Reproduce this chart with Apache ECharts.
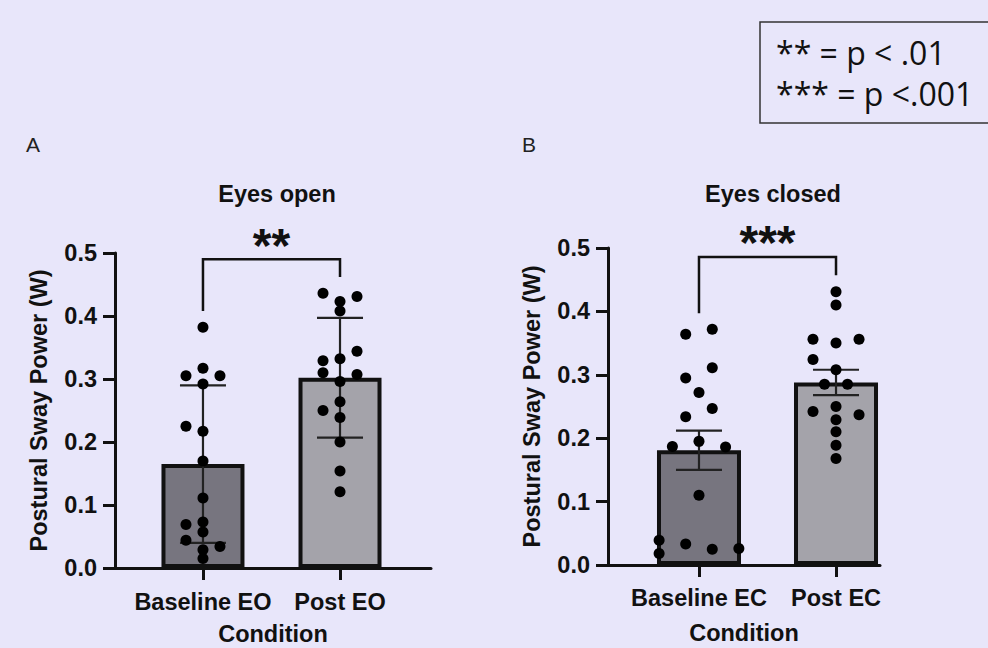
<!DOCTYPE html>
<html>
<head>
<meta charset="utf-8">
<script src="https://cdn.jsdelivr.net/npm/echarts@6/dist/echarts.min.js"></script>
<style>
html,body{margin:0;padding:0;background:#E8E6FA;}
#chart{width:988px;height:648px;}
</style>
</head>
<body>
<div id="chart"></div>
<script>
// ---------- data ----------
const categoriesA = ['Baseline EO', 'Post EO'];
const categoriesB = ['Baseline EC', 'Post EC'];
const yTicks = [0.0, 0.1, 0.2, 0.3, 0.4, 0.5];

const meansA = [0.165, 0.302];   // bar heights, eyes open
const errA   = [0.125, 0.095];   // SD
const meansB = [0.181, 0.288];   // bar heights, eyes closed
const errB   = [0.031, 0.020];   // SEM

const baselineEO = [0.382,0.317,0.305,0.305,0.292,0.225,0.217,0.170,0.111,0.069,0.073,0.057,0.044,0.034,0.029,0.015];
const baselineEOcol = [0,0,-1,1,0,-1,0,0,0,-1,0,0,-1,1,0,0];
const postEO = [0.436,0.431,0.423,0.408,0.344,0.329,0.332,0.310,0.307,0.296,0.264,0.250,0.239,0.200,0.154,0.121];
const postEOcol = [-1,1,0,0,1,-1,0,-1,1,0,0,-1,0,0,0,0];
const baselineEC = [0.364,0.372,0.311,0.295,0.272,0.247,0.234,0.187,0.195,0.186,0.110,0.039,0.018,0.033,0.025,0.026];
const baselineECcol = [-1,1,1,-1,0,1,-1,-2,0,2,0,-3,-3,-1,1,3];
const postEC = [0.431,0.410,0.356,0.350,0.356,0.324,0.308,0.285,0.285,0.242,0.250,0.237,0.229,0.210,0.189,0.168];
const postECcol = [0,0,-2,0,2,-2,0,-1,1,-2,0,2,0,0,0,0];

// significance brackets: [x0, x1, yTop, yLeftEnd, yRightEnd]
const bracketA = [0, 1, 0.490, 0.408, 0.462];
const bracketB = [0, 1, 0.486, 0.397, 0.457];
const starsA = '**';
const starsB = '***';

const panelTitles = ['Eyes open', 'Eyes closed'];
const panelLetters = ['A', 'B'];
const yAxisTitle = 'Postural Sway Power (W)';
const xAxisTitle = 'Condition';
const legendLines = ['** = p < .01', '*** = p <.001'];

// ---------- styles ----------
const BG = '#E8E6FA';
const INK = '#111111';
const BAR_DARK = '#77757F';
const BAR_LIGHT = '#A4A3AA';
const FONT = '"Liberation Sans", Arial, sans-serif';
const FS = 23.5;

function dots(vals, cols, center, spacing) {
  return vals.map((v, i) => [center + cols[i] * spacing, v]);
}

function xAxisCfg(grid, cats, min, max, margin, gap) {
  return {
    gridIndex: grid, type: 'value', min: min, max: max,
    axisLine: {show: true, onZero: false, lineStyle: {color: INK, width: 3}},
    axisTick: {show: true, customValues: [0, 1], length: 12, lineStyle: {color: INK, width: 3}},
    axisLabel: {show: true, customValues: [0, 1], formatter: v => cats[Math.round(v)] || '',
      fontSize: FS, fontWeight: 'bold', color: INK, fontFamily: FONT, margin: margin},
    splitLine: {show: false},
    name: xAxisTitle, nameLocation: 'middle', nameGap: gap,
    nameTextStyle: {fontSize: FS, fontWeight: 'bold', color: INK, fontFamily: FONT}
  };
}
function yAxisCfg(grid) {
  return {
    gridIndex: grid, type: 'value', min: 0, max: 0.5, interval: 0.1,
    axisLine: {show: true, onZero: false, lineStyle: {color: INK, width: 3}},
    axisTick: {show: true, length: 12, lineStyle: {color: INK, width: 3}},
    axisLabel: {formatter: v => v.toFixed(1), fontSize: FS, fontWeight: 'bold', color: INK, fontFamily: FONT, margin: 18},
    splitLine: {show: false},
    name: yAxisTitle, nameLocation: 'middle', nameGap: 64, nameRotate: 90,
    nameTextStyle: {fontSize: FS, fontWeight: 'bold', color: INK, fontFamily: FONT}
  };
}

function barSeries(idx, means, width) {
  return {
    type: 'bar', xAxisIndex: idx, yAxisIndex: idx, barWidth: width, z: 2,
    data: means.map((m, i) => ({value: [i, m], itemStyle: {color: i === 0 ? BAR_DARK : BAR_LIGHT}})),
    itemStyle: {borderColor: INK, borderWidth: 4},
    emphasis: {disabled: true}, silent: true
  };
}
function errSeries(idx, means, errs) {
  return {
    type: 'custom', xAxisIndex: idx, yAxisIndex: idx, z: 3, silent: true,
    data: means.map((m, i) => [i, m, errs[i]]),
    renderItem: function (params, api) {
      const x = api.value(0), m = api.value(1), e = api.value(2);
      const top = api.coord([x, m + e]), bot = api.coord([x, m - e]);
      const hw = 23;
      const st = {stroke: '#222', lineWidth: 2.2};
      return {type: 'group', children: [
        {type: 'line', shape: {x1: top[0], y1: top[1], x2: bot[0], y2: bot[1]}, style: st},
        {type: 'line', shape: {x1: top[0] - hw, y1: top[1], x2: top[0] + hw, y2: top[1]}, style: st},
        {type: 'line', shape: {x1: bot[0] - hw, y1: bot[1], x2: bot[0] + hw, y2: bot[1]}, style: st}
      ]};
    }
  };
}
function dotSeries(idx, data) {
  return {
    type: 'scatter', xAxisIndex: idx, yAxisIndex: idx, z: 4, silent: true,
    symbol: 'circle', symbolSize: 11, itemStyle: {color: '#000', opacity: 1}, data: data
  };
}
function bracketSeries(idx, br, stars) {
  return {
    type: 'custom', xAxisIndex: idx, yAxisIndex: idx, z: 5, silent: true,
    data: [br],
    renderItem: function (params, api) {
      const x0 = api.value(0), x1 = api.value(1), yt = api.value(2), yl = api.value(3), yr = api.value(4);
      const p1 = api.coord([x0, yl]), p2 = api.coord([x0, yt]), p3 = api.coord([x1, yt]), p4 = api.coord([x1, yr]);
      return {type: 'group', children: [
        {type: 'polyline', shape: {points: [p1, p2, p3, p4]}, style: {stroke: INK, lineWidth: 2.5, fill: 'none'}},
        {type: 'text', x: (p2[0] + p3[0]) / 2, y: p2[1] + 10,
          style: {text: stars, fontSize: 48, fontWeight: 'bold', fontFamily: FONT, fill: INK, align: 'center', verticalAlign: 'bottom'}}
      ]};
    }
  };
}

const chart = echarts.init(document.getElementById('chart'), null, {renderer: 'svg'});
chart.setOption({
  backgroundColor: BG,
  animation: false,
  title: [
    {text: panelTitles[0], left: 272, top: 177, textAlign: 'center',
      textStyle: {fontSize: FS, fontWeight: 'bold', color: INK, fontFamily: FONT}},
    {text: panelTitles[1], left: 768, top: 177, textAlign: 'center',
      textStyle: {fontSize: FS, fontWeight: 'bold', color: INK, fontFamily: FONT}}
  ],
  grid: [
    {left: 115, right: 557, top: 253, bottom: 80, containLabel: false, outerBoundsMode: 'none'},
    {left: 608, right: 108, top: 248, bottom: 83, containLabel: false, outerBoundsMode: 'none'}
  ],
  xAxis: [
    xAxisCfg(0, categoriesA, -0.642, 1.664, 22, 54),
    xAxisCfg(1, categoriesB, -0.664, 1.321, 21, 56)
  ],
  yAxis: [yAxisCfg(0), yAxisCfg(1)],
  series: [
    barSeries(0, meansA, 83),
    errSeries(0, meansA, errA),
    dotSeries(0, dots(baselineEO, baselineEOcol, 0, 0.124).concat(dots(postEO, postEOcol, 1, 0.124))),
    bracketSeries(0, bracketA, starsA),
    barSeries(1, meansB, 84),
    errSeries(1, meansB, errB),
    dotSeries(1, dots(baselineEC, baselineECcol, 0, 0.097).concat(dots(postEC, postECcol, 1, 0.084))),
    bracketSeries(1, bracketB, starsB)
  ],
  graphic: [
    {type: 'text', left: 26, top: 134, style: {text: panelLetters[0], fontSize: 21, fontFamily: FONT, fill: '#222'}},
    {type: 'text', left: 522, top: 134, style: {text: panelLetters[1], fontSize: 21, fontFamily: FONT, fill: '#222'}},
    {type: 'rect', shape: {x: 760, y: 22, width: 240, height: 101}, style: {fill: 'none', stroke: '#333', lineWidth: 1.5}},
    {type: 'text', x: 776, y: 52, style: {text: legendLines[0], fontSize: 32, fontFamily: '"Open Sans", sans-serif', fill: INK, verticalAlign: 'middle'}},
    {type: 'text', x: 776, y: 93, style: {text: legendLines[1], fontSize: 32, fontFamily: '"Open Sans", sans-serif', fill: INK, verticalAlign: 'middle'}}
  ]
});
</script>
</body>
</html>
